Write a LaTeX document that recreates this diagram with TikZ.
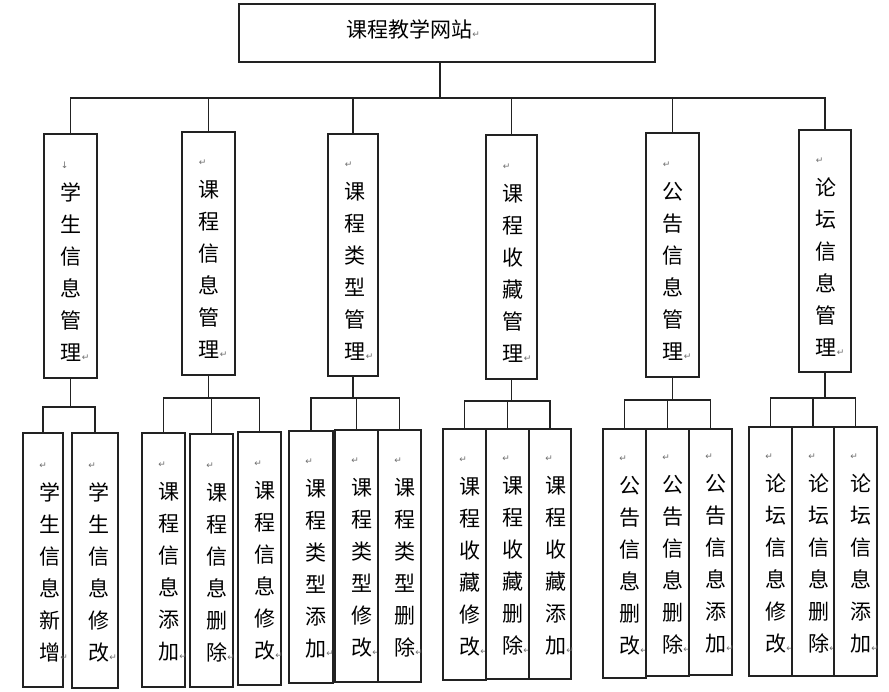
\documentclass[tikz,border=0pt]{standalone}
\usepackage{fontspec}
\newfontfamily\cjk{Noto Sans CJK SC}
\newfontfamily\markfont{DejaVu Sans}
\usepackage{tikz}
\usetikzlibrary{positioning, calc}
\usepackage{xcolor}
\definecolor{boxline}{HTML}{222222}
\definecolor{markgrey}{HTML}{6e6e6e}
% paragraph marks as the picture prints them
\newcommand{\pmark}{{\color{markgrey}\markfont\fontsize{9}{9}\selectfont ↵}}
\newcommand{\bmark}{{\color{markgrey}\markfont\fontsize{9}{9}\selectfont ↓}}
\tikzset{
  topbox/.style={rectangle, draw=boxline, line width=1.5pt, fill=white,
                 minimum width=416pt, minimum height=58pt},
  mgrbox/.style={rectangle, draw=boxline, line width=1.5pt, fill=white},
  leafbox/.style={rectangle, draw=boxline, line width=1.5pt, fill=white},
  vtext/.style={font=\cjk\fontsize{21}{32}\selectfont, align=left,
                inner sep=0pt, anchor=west},
  toptext/.style={font=\cjk\fontsize{21}{26}\selectfont, inner sep=0pt, anchor=west},
  branch/.style={draw=boxline, line width=1.5pt},
}
\begin{document}
\begin{tikzpicture}[x=1pt, y=-1pt]
  \useasboundingbox (0,0) rectangle (889,691);

  % --- Root ---
  \node[topbox] (top) at (447,33) {};
  \node[toptext] (top-t) at ([xshift=108pt, yshift=4pt]top.west) {课程教学网站\pmark};

  % --- Second level: management modules ---
  \foreach \n/\cx/\cy/\w/\h/\m/\t in {
      m1/70.5/256/53/244/\bmark/{学\\生\\信\\息\\管\\理},
      m2/208.5/253.5/53/243/\pmark/{课\\程\\信\\息\\管\\理},
      m3/353/255/50/242/\pmark/{课\\程\\类\\型\\管\\理},
      m4/511.5/257/51/244/\pmark/{课\\程\\收\\藏\\管\\理},
      m5/672.5/255/53/244/\pmark/{公\\告\\信\\息\\管\\理},
      m6/825/251/52/242/\pmark/{论\\坛\\信\\息\\管\\理}} {
    \node[mgrbox, minimum width=\w pt, minimum height=\h pt] (\n) at (\cx,\cy) {};
    \node[vtext] (\n-t) at ([xshift=17.5pt, yshift=-6pt]\n.west) {\m\\\t\pmark};
  }

  % --- Leaves: single functions ---
  \foreach \n/\cx/\cy/\w/\h/\t in {
      a1/43/560/40/254/{学\\生\\信\\息\\新\\增},
      a2/95/560.5/46/255/{学\\生\\信\\息\\修\\改},
      b1/163.5/560/43/254/{课\\程\\信\\息\\添\\加},
      b2/211.5/560.5/43/253/{课\\程\\信\\息\\删\\除},
      b3/259.5/558.5/43/253/{课\\程\\信\\息\\修\\改},
      c1/311/557/44/252/{课\\程\\类\\型\\添\\加},
      c2/356.5/556/43/252/{课\\程\\类\\型\\修\\改},
      c3/399.5/556/43/252/{课\\程\\类\\型\\删\\除},
      d1/464.5/554.5/43/251/{课\\程\\收\\藏\\修\\改},
      d2/507.5/554/43/250/{课\\程\\收\\藏\\删\\除},
      d3/550/554/42/250/{课\\程\\收\\藏\\添\\加},
      e1/624.5/553.5/43/249/{公\\告\\信\\息\\删\\改},
      e2/667.5/552.5/43/247/{公\\告\\信\\息\\删\\除},
      e3/710.5/552/43/246/{公\\告\\信\\息\\添\\加},
      f1/770.5/551.5/43/249/{论\\坛\\信\\息\\修\\改},
      f2/813/551.5/42/249/{论\\坛\\信\\息\\删\\除},
      f3/855.5/551.5/43/249/{论\\坛\\信\\息\\添\\加}} {
    \node[leafbox, minimum width=\w pt, minimum height=\h pt] (\n) at (\cx,\cy) {};
    \node[vtext] (\n-t) at ([xshift=17pt, yshift=-2pt]\n.west) {\pmark\\\t\pmark};
  }

  % Root to modules
  \foreach \m in {m1,m2,m3,m4,m5,m6} {
    \draw[branch] ([xshift=-7pt]top.south) -- ++(0,35) -| (\m.north);
  }

  % Modules to functions
  \foreach \p/\d/\cs in {m1/28/{a1,a2}, m2/22/{b1,b2,b3}, m3/21/{c1,c2,c3},
                         m4/21/{d1,d2,d3}, m5/22/{e1,e2,e3}, m6/25/{f1,f2,f3}} {
    \foreach \c in \cs {
      \draw[branch] (\p.south) -- ++(0,\d) -| (\c.north);
    }
  }
\end{tikzpicture}
\end{document}
